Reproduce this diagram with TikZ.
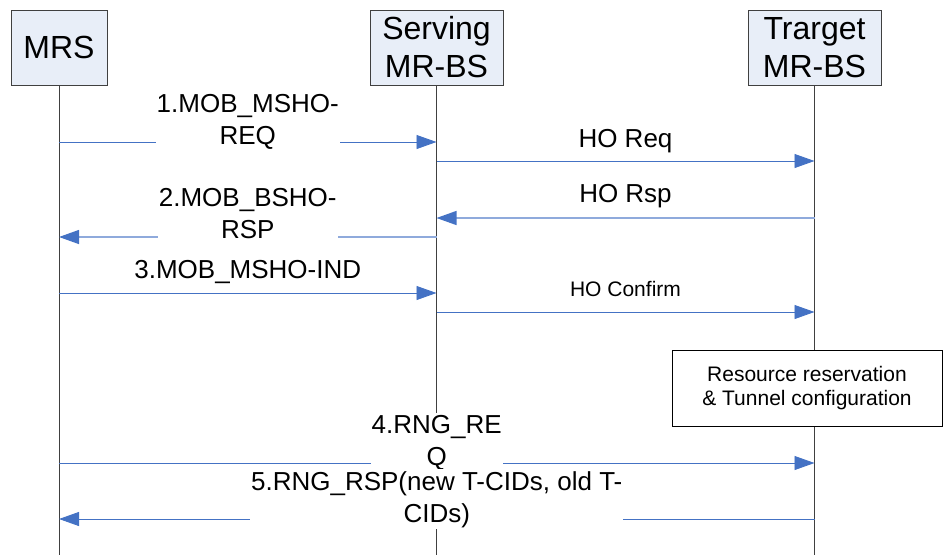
\documentclass[tikz,border=0pt]{standalone}
\usepackage{fontspec}
\setmainfont{Liberation Sans}
\usepackage{xcolor}
\usepackage{tikz}
\usetikzlibrary{arrows.meta}
\usetikzlibrary{positioning}
\usetikzlibrary{calc}
\definecolor{msgblue}{HTML}{4472C4}
\definecolor{msglight}{HTML}{8FAADC}
\definecolor{entfill}{HTML}{E8EEF8}
\tikzstyle{ent}=[rectangle,draw=black!75,fill=entfill,align=center,minimum height=75pt,inner xsep=12pt,font=\fontsize{32}{38}\selectfont]
\tikzstyle{life}=[draw=black!75,line width=0.8pt]
\tikzstyle{msg}=[draw=msgblue,line width=0.9pt,-{Triangle[length=20pt,width=14pt,color=msgblue]}]
\tikzstyle{msgl}=[msg,draw=msglight,line width=1.3pt]
\tikzstyle{lbl}=[align=center,fill=white,inner xsep=1pt,inner ysep=2pt,anchor=base,font=\fontsize{26}{32}\selectfont]
\tikzstyle{lbls}=[lbl,font=\fontsize{21}{25}\selectfont]

\begin{document}
\begin{tikzpicture}[x=1pt,y=-1pt]
\useasboundingbox (0,0) rectangle (943,555);

%entities
\node[ent,minimum width=96pt] (mrs) at (59,47.5) {MRS};
\node[ent,minimum width=133pt] (srv) at (436.5,47.5) {Serving\\MR-BS};
\node[ent,minimum width=133pt] (tgt) at (814.5,47.5) {Trarget\\MR-BS};

%lifelines
\coordinate (mrsend) at (mrs.south |- 0,555);
\coordinate (srvend) at (srv.south |- 0,555);
\coordinate (tgtend) at (tgt.south |- 0,555);
\draw[life] (mrs.south) -- (mrsend);
\draw[life] (srv.south) -- (srvend);
\draw[life] (tgt.south) -- (tgtend);

%resource box on target
\node[rectangle,draw=black,line width=1pt,fill=white,align=center,minimum width=270pt,minimum height=76pt,font=\fontsize{21}{24}\selectfont] (resv) at (807,388) {Resource reservation\\\& Tunnel configuration};

%1 MRS -> serving
\coordinate (m1a) at (mrs.south |- 0,142);
\coordinate (m1b) at (srv.south |- 0,142);
\draw[msg] (m1a) -- node[lbl,yshift=-2pt] (m1) {1.MOB\_MSHO-\\REQ} (m1b);

%HO req
\coordinate (h1a) at (srv.south |- 0,161);
\coordinate (h1b) at (tgt.south |- 0,161);
\draw[msg] (h1a) -- node[lbl,yshift=14pt] (h1) {HO Req} (h1b);

%HO rsp
\coordinate (h2a) at (tgt.south |- 0,218);
\coordinate (h2b) at (srv.south |- 0,218);
\draw[msgl] (h2a) -- node[lbl,yshift=16pt] (h2) {HO Rsp} (h2b);

%2 serving -> MRS
\coordinate (m2a) at (srv.south |- 0,237);
\coordinate (m2b) at (mrs.south |- 0,237);
\draw[msgl] (m2a) -- node[lbl,yshift=-1pt] (m2) {2.MOB\_BSHO-\\RSP} (m2b);

%3 MRS -> serving
\coordinate (m3a) at (mrs.south |- 0,293);
\coordinate (m3b) at (srv.south |- 0,293);
\draw[msg] (m3a) -- node[lbl,yshift=15pt] (m3) {3.MOB\_MSHO-IND} (m3b);

%HO confirm
\coordinate (h3a) at (srv.south |- 0,312);
\coordinate (h3b) at (tgt.south |- 0,312);
\draw[msg] (h3a) -- node[lbls,yshift=16pt] (h3) {HO Confirm} (h3b);

%4 MRS -> target
\coordinate (m4a) at (mrs.south |- 0,463);
\coordinate (m4b) at (tgt.south |- 0,463);
\draw[msg] (m4a) -- node[lbl,yshift=-2pt] (m4) {4.RNG\_RE\\Q} (m4b);

%5 target -> MRS
\coordinate (m5a) at (tgt.south |- 0,519);
\coordinate (m5b) at (mrs.south |- 0,519);
\draw[msg] (m5a) -- node[lbl,yshift=-3pt] (m5) {5.RNG\_RSP(new T-CIDs, old T-\\CIDs)} (m5b);

\end{tikzpicture}
\end{document}
